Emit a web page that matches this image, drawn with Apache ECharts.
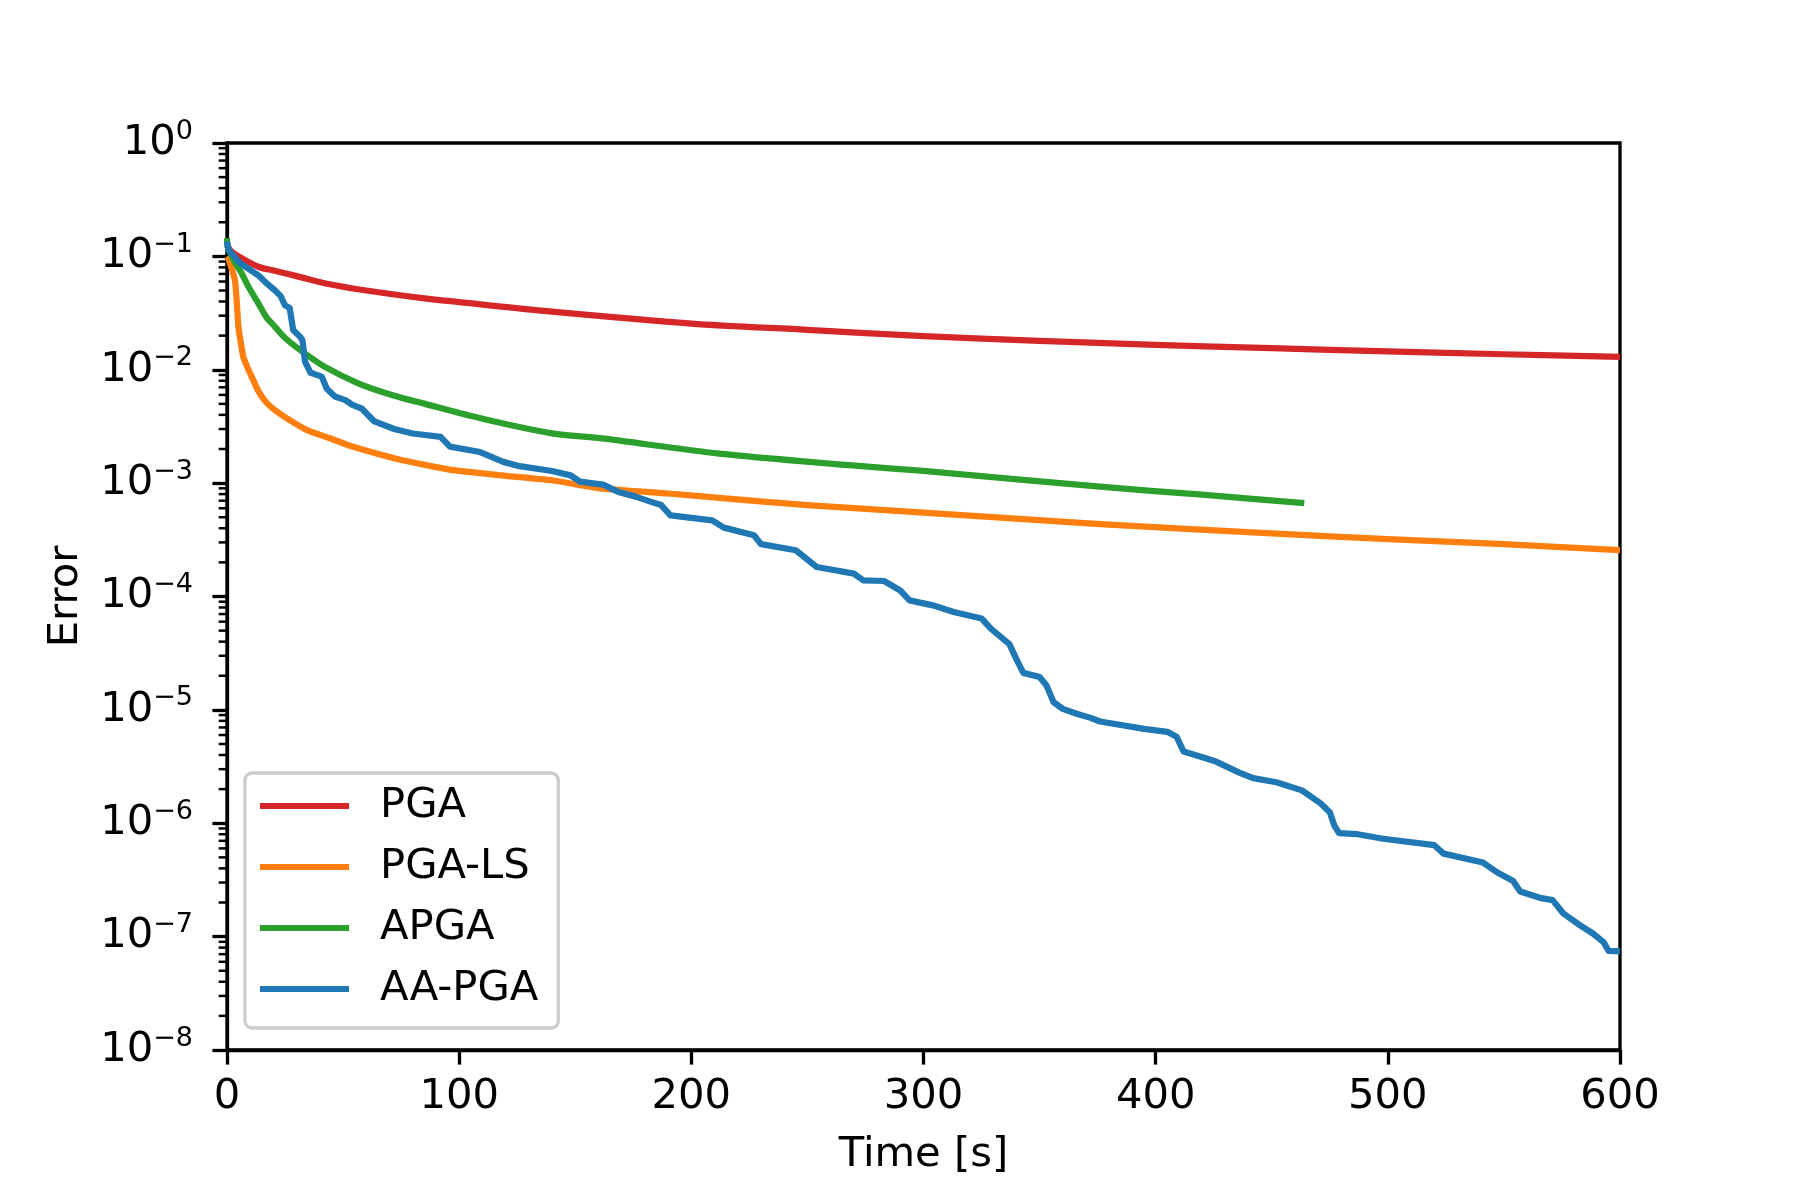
<!DOCTYPE html>
<html>
<head>
<meta charset="utf-8">
<script src="https://cdn.jsdelivr.net/npm/echarts@6/dist/echarts.min.js"></script>
<style>html,body{margin:0;padding:0;background:#fff}#c{width:1800px;height:1200px}</style>
</head>
<body>
<div id="c"></div>
<script>
const seriesNames = ['PGA', 'PGA-LS', 'APGA', 'AA-PGA'];
const seriesColors = ['#d62728', '#ff7f0e', '#2ca02c', '#1f77b4'];
const seriesSmooth = [0.3, 0.15, 0.3, false];
const xTicks = [0, 100, 200, 300, 400, 500, 600];
const yExponents = [0, -1, -2, -3, -4, -5, -6, -7, -8];

const pgaData = [[0,0.125],[2,0.11],[5,0.1],[13.5,0.081],[20,0.075],[30,0.067],[42,0.058],[60,0.05],[85,0.0426],[100,0.0395],[140,0.0325],[200,0.0255],[250,0.0225],[300,0.0198],[350,0.018],[400,0.0166],[450,0.0155],[500,0.0145],[550,0.0137],[600,0.013]];

const pgaLsData = [[0,0.1],[0.6,0.096],[3.4,0.062],[4.2,0.04],[4.9,0.024],[6,0.017],[7,0.013],[8.8,0.0105],[10.6,0.0087],[13,0.0068],[15,0.0058],[17.5,0.005],[20.7,0.0044],[27,0.0036],[35,0.0029],[44,0.0025],[54,0.0021],[75,0.0016],[97.5,0.0013],[120,0.00116],[140,0.00106],[160.7,0.0009],[190,0.00081],[212,0.00074],[250,0.00064],[300,0.00055],[376,0.000434],[450,0.00036],[500,0.00032],[550,0.00029],[600,0.000256]];

const apgaData = [[0,0.145],[0.4,0.12],[3,0.092],[6.3,0.071],[9,0.055],[13.5,0.0385],[17,0.029],[20.7,0.0239],[24,0.02],[27.9,0.017],[33,0.0142],[42.2,0.0106],[56.5,0.0076],[71,0.006],[85.3,0.005],[110,0.0037],[140,0.00275],[160.7,0.00249],[212,0.00182],[268,0.00144],[300,0.00128],[376,0.00093],[420,0.00079],[464,0.000665]];

const aaPgaData = [[0,0.135],[0.6,0.114],[5.6,0.087],[10,0.076],[13.5,0.068],[17,0.058],[20.7,0.05],[23,0.045],[25,0.037],[27,0.035],[28.5,0.0224],[31.5,0.0195],[32.5,0.0182],[33.6,0.0118],[36,0.0094],[40.8,0.0087],[43,0.0068],[46.5,0.0058],[51,0.0054],[54,0.0049],[58,0.00455],[63.5,0.0035],[72,0.003],[80,0.00274],[92,0.00256],[96,0.0021],[109,0.00188],[119,0.00154],[126,0.00141],[140,0.00128],[148,0.00117],[152,0.00103],[162,0.00097],[169,0.00083],[176,0.00076],[183,0.00068],[187,0.00064],[191,0.00052],[209,0.00047],[214,0.000405],[227,0.000347],[230,0.00029],[245,0.000256],[254,0.000182],[270,0.000159],[274,0.000139],[283,0.000137],[290,0.000113],[294,9.25e-5],[304,8.36e-5],[313,7.3e-5],[325,6.4e-5],[329,5.2e-5],[337,3.8e-5],[340,2.8e-5],[343,2.12e-5],[350,1.95e-5],[353,1.64e-5],[356,1.17e-5],[360,1.02e-5],[366,9.25e-6],[372,8.5e-6],[376,7.9e-6],[395,6.8e-6],[405,6.4e-6],[409,5.8e-6],[412,4.3e-6],[420.5,3.8e-6],[426,3.5e-6],[436,2.8e-6],[442,2.5e-6],[452,2.3e-6],[463,1.95e-6],[471,1.5e-6],[475,1.25e-6],[477,9.5e-7],[479,8.2e-7],[487,8.0e-7],[498,7.3e-7],[520,6.4e-7],[524,5.4e-7],[541,4.5e-7],[547,3.7e-7],[554,3.1e-7],[557,2.5e-7],[565.5,2.2e-7],[571,2.1e-7],[575.6,1.6e-7],[583,1.25e-7],[588.5,1.06e-7],[593,8.9e-8],[595,7.5e-8],[600,7.4e-8]];

const allData = [pgaData, pgaLsData, apgaData, aaPgaData];

// minor tick positions of the log axis (2..9 x 10^k)
const minorTickValues = [];
for (let e = -8; e < 0; e++) {
  for (let m = 2; m <= 9; m++) minorTickValues.push([0, m * Math.pow(10, e)]);
}

const FONT = 'DejaVu Sans';
const FS = 41.7;

const chart = echarts.init(document.getElementById('c'), null, {renderer: 'canvas'});

const lineSeries = seriesNames.map((n, i) => ({
  name: n,
  type: 'line',
  data: allData[i],
  showSymbol: false,
  symbol: 'none',
  smooth: seriesSmooth[i],
  color: seriesColors[i],
  lineStyle: {color: seriesColors[i], width: 6.25, cap: 'butt', join: 'round'},
  z: 2 + i,
  animation: false
}));

lineSeries.push({
  name: 'minorTicks',
  type: 'custom',
  data: minorTickValues,
  silent: true,
  clip: false,
  animation: false,
  renderItem: function (params, api) {
    const p = api.coord([0, api.value(1)]);
    return {
      type: 'line',
      shape: {x1: p[0] - 8.3, y1: p[1], x2: p[0], y2: p[1]},
      style: {stroke: '#000', lineWidth: 2.5}
    };
  }
});

chart.setOption({
  animation: false,
  backgroundColor: '#fff',
  textStyle: {fontFamily: FONT},
  grid: {left: 227, right: 180, top: 143, bottom: 150, containLabel: false,
         show: true, borderColor: '#000', borderWidth: 3.3, backgroundColor: 'transparent'},
  legend: {
    data: seriesNames,
    orient: 'vertical',
    left: 245, top: 773,
    width: 310,
    icon: 'rect',
    itemWidth: 89, itemHeight: 6,
    itemGap: 13,
    padding: [9, 20, 15, 15],
    backgroundColor: '#fff',
    borderColor: '#cccccc',
    borderWidth: 3.3,
    borderRadius: 7,
    textStyle: {fontFamily: FONT, fontSize: FS, color: '#000', lineHeight: 48, padding: [0, 0, 0, 26]}
  },
  xAxis: {
    type: 'value',
    min: 0, max: 600, interval: 100,
    name: 'Time [s]',
    nameLocation: 'middle',
    nameGap: 84,
    nameTextStyle: {fontFamily: FONT, fontSize: FS, color: '#000'},
    axisLine: {show: true, lineStyle: {color: '#000', width: 3.3}},
    axisTick: {show: true, inside: false, length: 14.6, lineStyle: {color: '#000', width: 3.3}},
    axisLabel: {fontFamily: FONT, fontSize: FS, color: '#000', margin: 26,
      formatter: v => (xTicks.indexOf(v) >= 0 ? String(v) : '')},
    splitLine: {show: false}
  },
  yAxis: {
    type: 'log',
    logBase: 10,
    min: 1e-8, max: 1,
    interval: 1,
    name: 'Error',
    nameLocation: 'middle',
    nameGap: 140,
    nameTextStyle: {fontFamily: FONT, fontSize: FS, color: '#000'},
    axisLine: {show: true, lineStyle: {color: '#000', width: 3.3}},
    axisTick: {show: true, inside: false, length: 14.6, lineStyle: {color: '#000', width: 3.3}},
    axisLabel: {
      margin: 34,
      color: '#000',
      formatter: function (v) {
        const e = Math.round(Math.log10(v));
        if (yExponents.indexOf(e) < 0) return '';
        const s = e < 0 ? '\u2212' + (-e) : String(e);
        return '{b|10}{s|' + s + '}';
      },
      rich: {
        b: {fontFamily: FONT, fontSize: FS, color: '#000', lineHeight: 50},
        s: {fontFamily: FONT, fontSize: 27, color: '#000', lineHeight: 36, verticalAlign: 'top'}
      }
    },
    splitLine: {show: false},
    minorTick: {show: false}
  },
  series: lineSeries
});
</script>
</body>
</html>
